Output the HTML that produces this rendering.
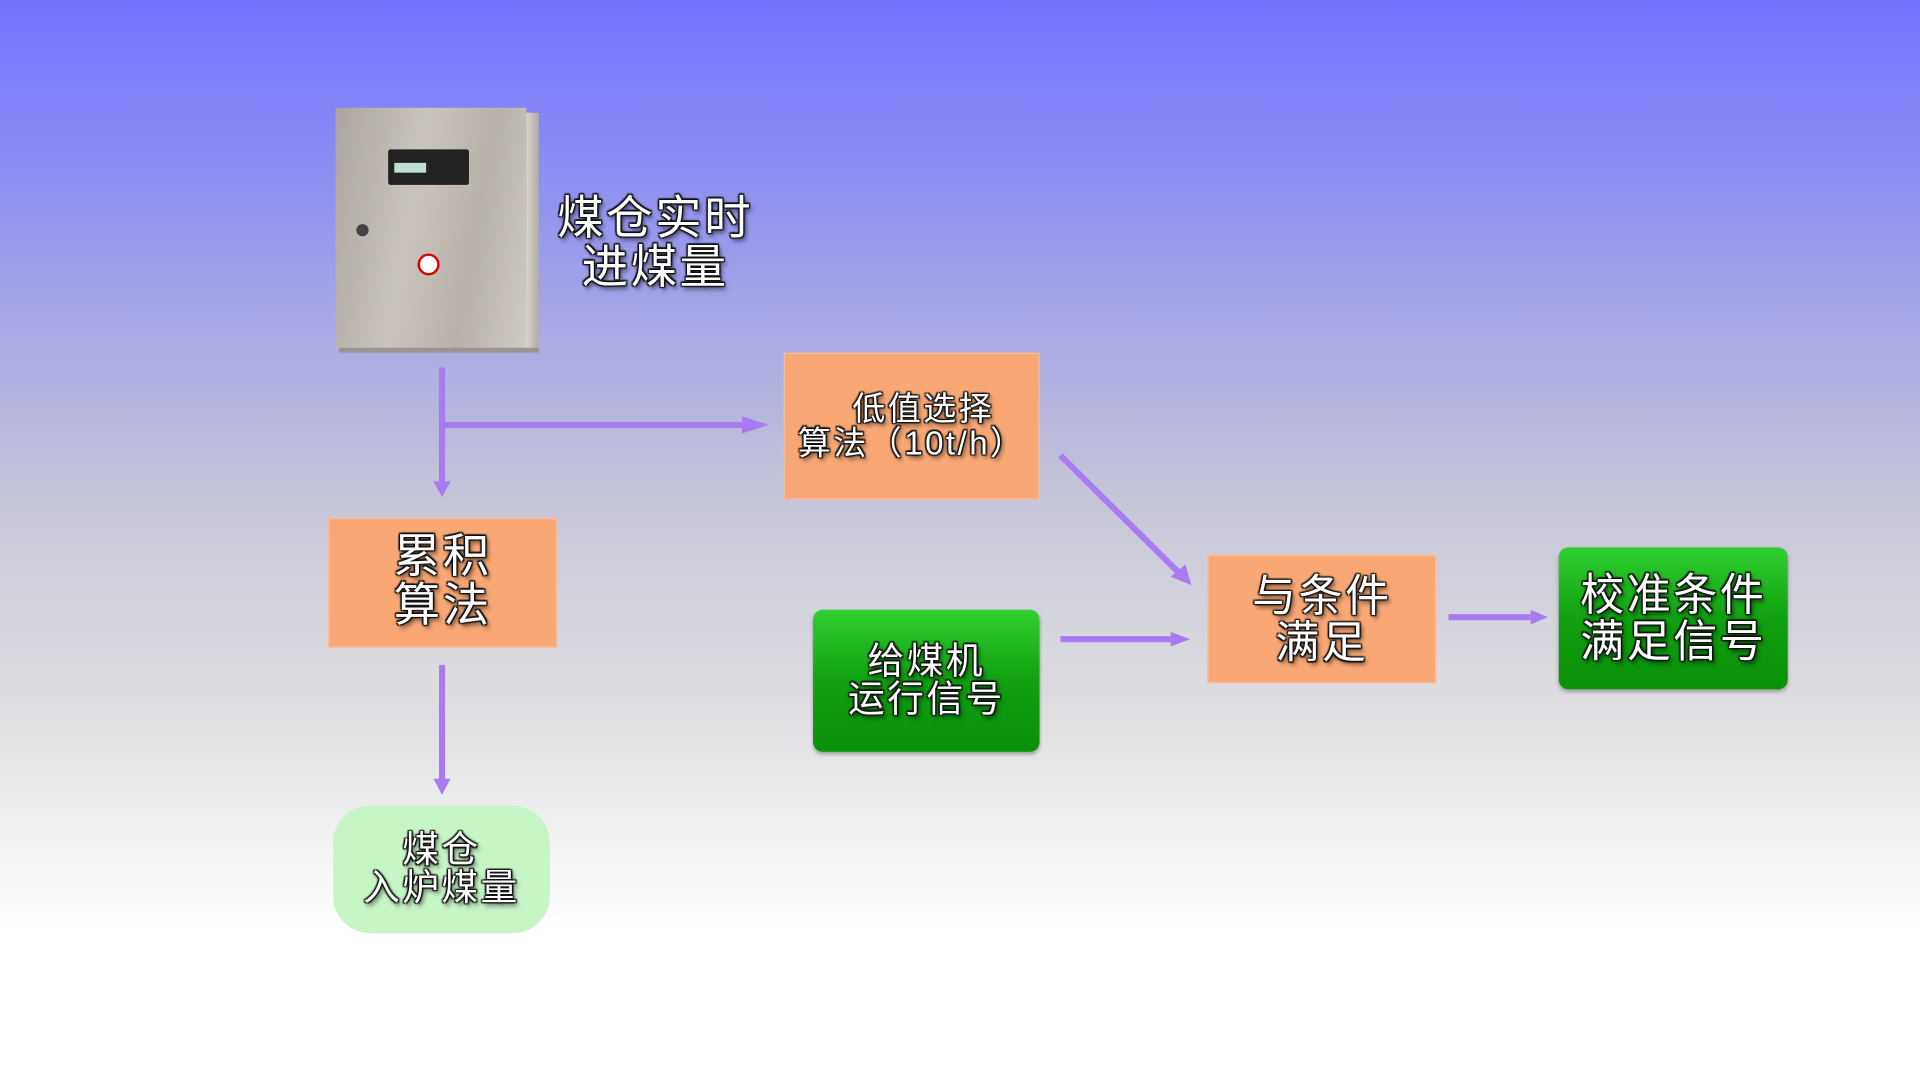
<!DOCTYPE html>
<html><head><meta charset="utf-8"><style>
html,body{margin:0;padding:0;width:1920px;height:1080px;overflow:hidden}
#s{position:absolute;left:0;top:0;width:1568px;height:882px;transform:scale(1.22449);transform-origin:0 0;
background:linear-gradient(to bottom,#7272ff 0px,#a4a4e8 250px,#c4c4d8 400px,#dcdce0 560px,#f4f4f4 700px,#fff 760px,#fff 882px);
font-family:"Liberation Sans","Noto Sans CJK SC",sans-serif;}
.b{position:absolute;display:flex;align-items:center;justify-content:center;text-align:center;color:#fff;font-weight:normal;letter-spacing:2px;
text-shadow:0 0 2px #111,1px 1px 1px #111,-1px -1px 1px #111,1px -1px 1px #111,-1px 1px 1px #111,2px 3px 4px rgba(0,0,0,.6);line-height:1.05}
.o{background:#f9a875;border:1px solid #f7bfa0}
.g{background:linear-gradient(#30d030,#10a010 50%,#0a900a);border-radius:8px;box-shadow:0 2px 3px rgba(0,0,0,.3)}
</style></head><body><div id="s">
<div style="position:absolute;left:274px;top:88px;width:156px;height:196px;background:linear-gradient(100deg,#aaa59e,#c9c4bc 40%,#b7b2aa 70%,#cfcac2);"></div>
<div style="position:absolute;left:430px;top:92px;width:10px;height:196px;background:linear-gradient(90deg,#d8d4cc,#b0aca5);"></div>
<div style="position:absolute;left:277px;top:284px;width:163px;height:4px;background:#9a958e"></div>
<div style="position:absolute;left:317px;top:122px;width:66px;height:29px;background:#222;border-radius:2px"></div>
<div style="position:absolute;left:322px;top:133px;width:26px;height:8px;background:#bfe0d0"></div>
<div style="position:absolute;left:291px;top:183px;width:10px;height:10px;border-radius:50%;background:#444"></div>
<div style="position:absolute;left:341px;top:207px;width:14px;height:14px;border-radius:50%;background:#fff;border:2px solid #d00"></div>
<div class="b" style="left:440px;top:158px;width:190px;height:84px;font-size:38px">煤仓实时<br>进煤量</div>
<svg style="position:absolute;left:0;top:0" width="1568" height="882">
<g stroke="#a87cf0" stroke-width="5" fill="#a87cf0">
<line x1="361" y1="300" x2="361" y2="395"/><polygon points="354,393 368,393 361,406" stroke="none"/>
<line x1="361" y1="347" x2="610" y2="347"/><polygon points="606,340 606,354 628,347" stroke="none"/>
<line x1="361" y1="543" x2="361" y2="638"/><polygon points="354,636 368,636 361,649" stroke="none"/>
<line x1="866" y1="372" x2="962" y2="467"/><polygon points="956,471 968,461 973,478" stroke="none"/>
<line x1="866" y1="522" x2="958" y2="522"/><polygon points="956,516 956,528 972,522" stroke="none"/>
<line x1="1183" y1="504" x2="1250" y2="504"/><polygon points="1250,498 1250,510 1264,504" stroke="none"/>
</g></svg>
<div class="b o" style="left:640px;top:288px;width:207px;height:118px;font-size:27px">&nbsp;&nbsp;低值选择<br>算法（10t/h）</div>
<div class="b o" style="left:268px;top:423px;width:185px;height:104px;font-size:38px">累积<br>算法</div>
<div class="b" style="left:272px;top:658px;width:177px;height:104px;border-radius:30px;background:#c6f5c6;font-size:30px">煤仓<br>入炉煤量</div>
<div class="b g" style="left:664px;top:498px;width:185px;height:116px;font-size:30px">给煤机<br>运行信号</div>
<div class="b o" style="left:986px;top:453px;width:185px;height:103px;font-size:36px">与条件<br>满足</div>
<div class="b g" style="left:1273px;top:447px;width:187px;height:116px;font-size:36px">校准条件<br>满足信号</div>
</div></body></html>
